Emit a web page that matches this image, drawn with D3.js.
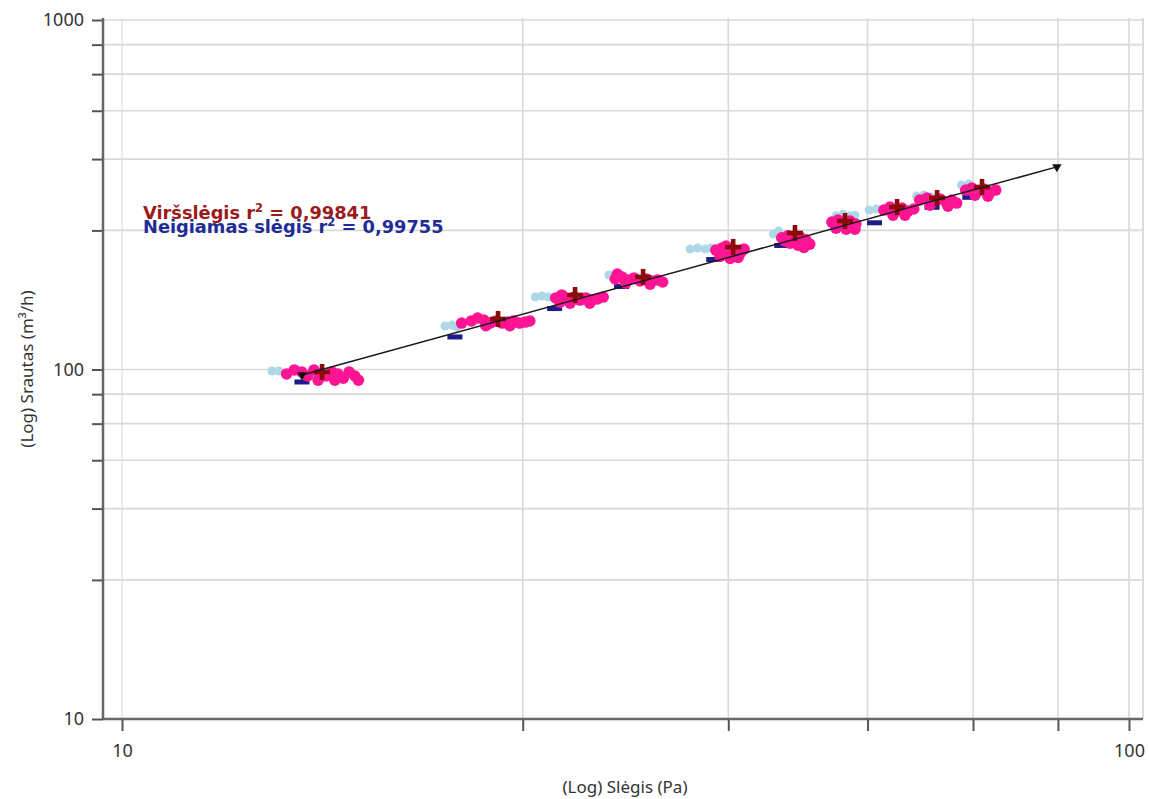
<!DOCTYPE html>
<html>
<head>
<meta charset="utf-8">
<script src="https://cdn.jsdelivr.net/npm/d3@7/dist/d3.min.js"></script>
<style>
  html, body { margin: 0; padding: 0; background: #fff; }
  svg { display: block; }
  text { font-family: "Noto Sans", "Open Sans", sans-serif; }
  text.legend { font-family: "DejaVu Sans", sans-serif; font-weight: bold; }
</style>
</head>
<body>
<svg id="chart" width="1149" height="799"></svg>
<script>
// ---------- DATA ----------
const xTicks = [10, 25, 40, 55, 70, 85, 100];
const yTicks = [10, 25, 40, 55, 70, 85, 100, 250, 400, 550, 700, 850, 1000];
const xTickLabels = [10, 100];
const yTickLabels = [10, 100, 1000];

const xTitle = "(Log) Slėgis (Pa)";
const yTitle = "(Log) Srautas (m³/h)";

const legendLabels = ["Viršslėgis r", "Neigiamas slėgis r"];
const legendValues = ["0,99841", "0,99755"];

// positive-pressure (Viršslėgis) mean points (crosses)
const posMeanP = [15.80, 23.63, 28.18, 32.92, 40.45, 46.59, 52.24, 58.84, 64.48, 71.45];
const posMeanQ = [98.4, 139.5, 163.4, 184.0, 224.1, 245.8, 266.0, 291.7, 309.6, 332.8];
// negative-pressure (Neigiamas slėgis) mean points (dashes)
const negMeanP = [15.09, 21.41, 26.89, 31.34, 38.69, 45.20, 52.84, 55.88, 63.74, 69.49];
const negMeanQ = [92.1, 123.9, 149.4, 172.8, 206.4, 226.4, 255.5, 262.9, 291.2, 310.9];

// positive-pressure readings, per step
const posP = [
  [14.57,14.83,15.08,15.29,15.51,15.73,15.94,16.16,16.38,16.59,16.81,17.03,17.17,15.66,16.27],
  [21.74,22.23,22.55,22.87,23.20,23.52,23.85,24.17,24.49,24.82,25.14,25.41,22.98,24.28],
  [26.96,27.34,27.73,28.12,28.50,28.89,29.27,29.66,30.05,27.22,29.14,27.86],
  [30.89,31.34,31.79,32.24,32.69,33.15,33.60,34.05,34.43,31.64,33.45,31.04],
  [38.88,39.43,39.99,40.54,41.10,39.25,40.17,40.91,41.47,39.80],
  [45.20,45.84,46.48,47.12,47.76,48.19,46.91,46.06,47.55,45.52],
  [50.69,51.40,52.12,52.84,53.55,51.17,52.36,53.44],
  [57.09,57.90,58.71,59.51,60.32,61.13,58.30,59.92],
  [61.97,63.00,64.04,64.92,65.81,66.69,67.43,63.45,66.10],
  [68.84,69.82,70.80,71.78,72.76,73.74,70.31,72.43]
];
const posQ = [
  [97.1,99.7,98.4,95.8,99.7,97.1,95.8,98.4,97.1,94.5,98.4,95.8,93.2,93.2,93.2],
  [135.8,137.7,140.4,138.6,135.8,137.7,135.8,136.7,137.7,135.8,136.7,137.7,133.5,133.5],
  [160.2,163.4,159.1,161.2,158.0,160.2,158.0,159.1,161.2,155.9,154.8,154.8],
  [181.6,184.0,180.4,182.8,179.2,181.6,179.2,180.4,178.0,176.7,175.5,187.6],
  [219.7,222.6,216.7,219.7,215.2,210.8,207.9,209.3,221.1,225.6],
  [238.0,241.3,236.4,239.7,234.9,228.4,226.7,230.0,223.5,233.2],
  [264.2,267.8,262.5,266.0,260.7,253.7,251.9,251.9],
  [285.9,291.7,285.9,289.8,284.0,287.9,276.3,276.3],
  [305.5,309.6,303.5,307.6,301.4,305.5,299.4,295.3,293.3],
  [326.2,330.6,324.0,328.4,321.8,326.2,315.3,313.1]
];
// negative-pressure readings, per step
const negP = [
  [14.09,14.31],
  [20.93,21.27,21.51],
  [25.73,26.12,26.51],
  [30.44,30.96,31.49],
  [36.66,37.30,37.95,38.50],
  [44.35,44.88],
  [51.17,52.00,52.84,53.44],
  [55.21,56.15],
  [61.53,62.56,63.59],
  [68.18,69.32]
];
const negQ = [
  [99.0,99.0],
  [133.2,134.1,132.3],
  [161.2,162.3,161.2],
  [186.4,187.6,185.2],
  [221.1,222.6,221.1,222.6],
  [244.2,249.0],
  [274.8,278.3,274.8,276.5],
  [285.9,287.9],
  [313.7,315.7,311.6],
  [337.2,339.4]
];
// fitted line end points
const fitP = [15.09, 84.8];
const fitQ = [96.4, 380];

// ---------- CHART ----------
const svg = d3.select("#chart");
const plotL = 103, plotR = 1143, plotT = 18, plotB = 719;

const x = d3.scaleLog().domain([10, 100]).range([122, 1129]);
const y = d3.scaleLog().domain([10, 1000]).range([719, 20]);

const grid = svg.append("g");
grid.selectAll("line.vx").data(xTicks).enter().append("line")
  .attr("x1", d => x(d)).attr("x2", d => x(d))
  .attr("y1", plotT).attr("y2", plotB)
  .attr("stroke", d => d === 10 ? "#e6e6e6" : "#d9d9d9").attr("stroke-width", 1.6);
grid.selectAll("line.hy").data(yTicks.filter(d => d > 10)).enter().append("line")
  .attr("x1", plotL).attr("x2", plotR)
  .attr("y1", d => y(d)).attr("y2", d => y(d))
  .attr("stroke", "#d9d9d9").attr("stroke-width", 1.6);
grid.append("line").attr("x1", plotR).attr("x2", plotR).attr("y1", plotT).attr("y2", plotB)
  .attr("stroke", "#d4d4d4").attr("stroke-width", 1.6);

// axes
const xAxis = d3.axisBottom(x).tickValues(xTicks).tickSize(12)
  .tickFormat(d => xTickLabels.includes(d) ? String(d) : "");
const yAxis = d3.axisLeft(y).tickValues(yTicks).tickSize(11)
  .tickFormat(d => yTickLabels.includes(d) ? String(d) : "");

const gx = svg.append("g").attr("transform", `translate(0,${plotB})`).call(xAxis);
gx.select(".domain").remove();
gx.selectAll(".tick line").attr("stroke", "#555").attr("stroke-width", 2);
gx.selectAll(".tick text").attr("fill", "#333").attr("font-size", 18).attr("dy", "1.25em");

const gy = svg.append("g").attr("transform", `translate(${plotL},0)`).call(yAxis);
gy.select(".domain").remove();
gy.selectAll(".tick line").attr("stroke", "#555").attr("stroke-width", 2);
gy.selectAll(".tick text").attr("fill", "#333").attr("font-size", 18).attr("x", -19);

// axis lines
svg.append("line").attr("x1", plotL).attr("x2", plotR).attr("y1", plotB).attr("y2", plotB)
  .attr("stroke", "#666").attr("stroke-width", 2.5);
svg.append("line").attr("x1", plotL).attr("x2", plotL).attr("y1", plotT).attr("y2", plotB)
  .attr("stroke", "#666").attr("stroke-width", 2.5);

// axis titles
svg.append("text").attr("x", 625).attr("y", 793).attr("text-anchor", "middle")
  .attr("font-size", 17).attr("fill", "#333").text(xTitle);
svg.append("text").attr("transform", "translate(33,369) rotate(-90)").attr("text-anchor", "middle")
  .attr("font-size", 17).attr("fill", "#333").text(yTitle);

// data layers
const steps = d3.range(posMeanP.length);
const negPts = steps.flatMap(i => negP[i].map((p, j) => [p, negQ[i][j]]));
const posPts = steps.flatMap(i => posP[i].map((p, j) => [p, posQ[i][j]]));

svg.append("g").selectAll("circle").data(negPts).enter().append("circle")
  .attr("cx", d => x(d[0])).attr("cy", d => y(d[1])).attr("r", 4.5)
  .attr("fill", "#add8e6");

svg.append("g").selectAll("rect").data(steps).enter().append("rect")
  .attr("x", i => x(negMeanP[i]) - 7.5).attr("y", i => y(negMeanQ[i]) - 2.5)
  .attr("width", 15).attr("height", 5).attr("fill", "#1c1c8c");

svg.append("g").selectAll("circle").data(posPts).enter().append("circle")
  .attr("cx", d => x(d[0])).attr("cy", d => y(d[1])).attr("r", 5.8)
  .attr("fill", "#ff1493");

const crosses = svg.append("g").selectAll("g").data(steps).enter().append("g")
  .attr("transform", i => `translate(${x(posMeanP[i])},${y(posMeanQ[i])})`);
crosses.append("rect").attr("x", -8).attr("y", -2.3).attr("width", 16).attr("height", 4.6).attr("fill", "#8b0a0a");
crosses.append("rect").attr("x", -2.3).attr("y", -8).attr("width", 4.6).attr("height", 16).attr("fill", "#8b0a0a");

// fitted line
const fitPts = fitP.map((p, i) => [p, fitQ[i]]);
svg.append("path").datum(fitPts)
  .attr("d", d3.line().x(d => x(d[0])).y(d => y(d[1])))
  .attr("stroke", "#1a1a1a").attr("stroke-width", 1.5).attr("fill", "none");
svg.append("g").selectAll("path").data(fitPts).enter().append("path")
  .attr("d", d3.symbol().type(d3.symbolTriangle).size(38))
  .attr("transform", d => `translate(${x(d[0])},${y(d[1])}) rotate(180)`)
  .attr("fill", "#111");

// legend
const legColors = ["#9b1b1b", "#1f2b96"];
const legY = [219, 233];
legendLabels.forEach((lab, i) => {
  const t = svg.append("text").attr("class", "legend").attr("x", 143).attr("y", legY[i])
    .style("font-size", "17.8px").attr("fill", legColors[i]);
  t.append("tspan").text(lab);
  t.append("tspan").attr("dy", -7).style("font-size", "11.5px").text("2");
  t.append("tspan").attr("dy", 7).text(" = " + legendValues[i]);
});
</script>
</body>
</html>
